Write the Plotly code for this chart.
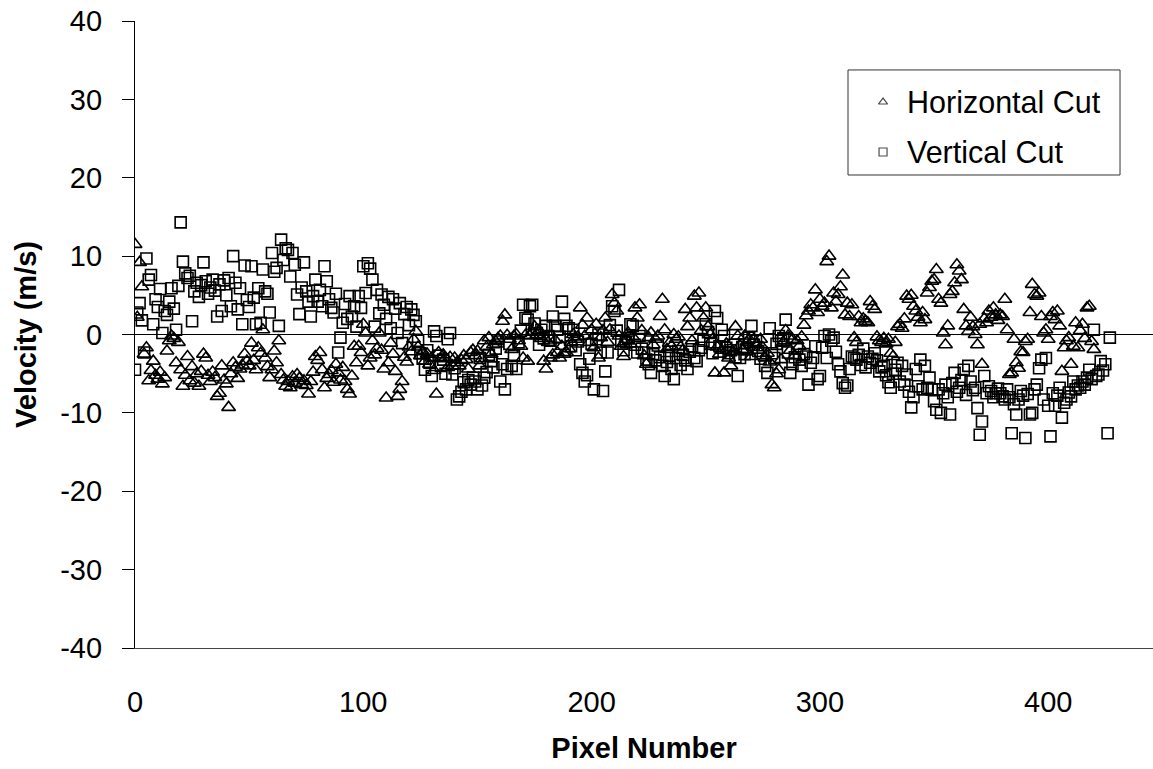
import plotly.graph_objects as go

# Velocity along the horizontal cut (one sample per pixel, 0..420)
horizontal_cut = [
    11.5, 2.2, 9.2, 6.1, -2.5, -1.7, -5.9, -4.6, -3.4, -5.2,
    -5.7, -4.8, -6.3, -5.5, -2.1, -0.8, -0.2, -0.5, -3.6, -1.0,
    -4.5, -6.6, -5.2, -2.8, -5.9, -4.1, -6.2, -5.0, -6.6, -4.7,
    -2.5, -3.0, -5.2, -6.0, -4.8, -5.5, -7.9, -7.5, -4.0, -5.8,
    -6.3, -9.3, -5.0, -3.6, -4.2, -5.6, -4.4, -3.9, -2.5, -3.4,
    -4.0, -1.1, -3.3, -4.5, -1.7, -2.4, 0.6, -3.0, -4.1, -5.5,
    -4.5, -2.1, -3.6, -0.8, -5.1, -5.8, -6.6, -6.0, -6.8, -5.4,
    -6.2, -5.1, -5.6, -6.4, -5.9, -6.5, -7.6, -6.0, -4.8, -2.8,
    -3.3, -2.3, -4.5, -6.8, -5.6, -5.1, -4.6, -6.1, -3.8, -4.9,
    -5.8, -4.2, -6.0, -7.0, -7.6, -5.3, -1.5, -3.6, -1.5, -2.3,
    1.3, 0.2, -4.0, -3.0, -0.8, -2.6, -1.8, 0.2, -2.0, -4.4,
    -8.1, -3.6, -1.1, -2.5, -4.7, -7.9, -7.0, -6.0, -2.9, -3.5,
    -1.6, -2.2, -0.6, 0.4, -1.6, -2.7, -2.2, -3.4, -2.5, -3.8,
    -3.0, -4.6, -7.6, -2.3, -3.1, -2.6, -3.0, -4.2, -2.9, -4.0,
    -3.0, -3.6, -4.0, -3.3, -2.7, -3.2, -4.4, -2.3, -2.0, -2.7,
    -2.1, -4.0, -3.1, -0.8, -1.6, -0.4, -2.5, -1.3, -0.9, -0.5,
    -0.2, 1.7, 2.5, -0.1, -0.6, -1.9, -0.2, 0.0, -0.8, -1.5,
    -3.0, -0.1, -3.4, -0.2, 0.3, 1.0, 0.0, 0.5, -0.5, -3.4,
    -4.4, -1.0, -3.0, -2.6, -0.7, -2.3, -3.0, -1.5, -2.5, -2.3,
    -1.8, -1.0, 0.0, -0.6, -0.3, 3.4, 1.2, -0.2, 2.1, -1.0,
    0.6, -1.7, 1.3, -3.0, -0.4, 0.5, 2.1, -1.0, 0.6, 5.1,
    4.0, 3.0, -0.2, -1.5, -2.8, -0.6, 0.2, -1.2, -0.3, 3.4,
    2.1, 3.8, 0.5, -2.7, -3.8, -0.4, 0.2, -1.3, -0.6, -0.2,
    2.3, 4.5, 0.6, -1.9, -1.1, -1.5, 0.0, -0.6, -0.3, -1.6,
    -2.0, 3.2, 1.0, 2.1, -0.8, 4.9, 3.4, 5.3, 0.5, 2.1,
    3.4, 1.0, 0.0, -0.6, -4.9, -1.6, -2.5, -2.0, -4.9, -1.2,
    -3.0, -4.0, -2.2, 1.0, -0.2, -1.4, -2.0, -0.2, -1.0, -0.6,
    -2.8, -0.6, -1.3, -2.0, -0.6, -1.7, -3.0, -2.4, -3.5, -6.4,
    -6.8, -5.0, -4.5, -3.2, -1.0, 0.5, -0.2, -2.0, -0.6, -2.7,
    -0.8, -1.5, -0.3, 1.2, 2.4, 3.0, 3.8, 3.4, 5.7, 2.8,
    4.5, 3.6, 4.0, 9.3, 10.0, 3.4, 5.3, 4.2, 5.1, 6.1,
    7.6, 2.5, 4.0, 2.3, 3.8, -0.4, -1.0, 2.3, 1.5, 2.0,
    1.7, 1.5, 4.2, 3.6, 3.2, -0.3, -0.8, -1.0, -0.5, -1.2,
    -0.6, -2.4, -2.8, -1.0, 1.0, 1.3, 0.8, 2.0, 4.9, 4.5,
    5.0, 3.6, 3.0, 2.2, 1.5, 2.8, 1.9, 5.3, 6.0, 6.8,
    7.0, 8.3, 4.5, 4.0, 0.2, -1.3, 1.1, 5.1, 5.5, 6.6,
    8.9, 8.1, 7.0, 3.2, 1.1, 0.4, 2.2, 1.0, 0.0, -1.3,
    1.3, -3.8, 2.0, 1.5, 3.0, 2.2, 3.4, 2.5, 1.8, 2.5,
    2.3, 4.5, 0.6, -5.1, -4.9, -0.6, -3.6, -4.3, -2.2, -2.3,
    -0.9, -0.6, 2.8, 6.4, 5.1, 4.9, 5.3, 2.3, 0.2, 0.6,
    -0.6, 2.3, 2.8, 1.9, 3.0, 1.1, -4.7, -1.7, -0.8, -0.4,
    -3.8, -1.5, 1.5, -1.7, 0.5, 1.3, -0.5, 3.4, 3.6, -0.9,
    -1.9,
]

# Velocity along the vertical cut (one sample per pixel, 0..427)
vertical_cut = [
    -4.5, 2.8, 4.0, 1.8, -2.3, 9.7, 7.0, 7.6, 1.3, 4.5,
    3.5, 5.8, 0.2, 3.0, 2.5, 4.2, 5.9, 3.3, 0.6, 6.2,
    14.3, 9.3, 7.8, 7.2, 7.5, 1.7, 5.5, 6.6, 4.8, 6.3,
    9.2, 6.8, 5.2, 6.0, 7.0, 5.6, 2.3, 6.4, 3.0, 6.9,
    5.0, 7.2, 3.6, 10.0, 6.6, 3.2, 5.9, 1.3, 8.8, 4.4,
    3.5, 8.7, 4.7, 1.3, 5.9, 1.5, 8.3, 5.5, 5.2, 2.8,
    10.4, 8.0, 8.5, 1.1, 12.1, 9.5, 11.0, 10.8, 7.4, 10.4,
    8.9, 5.1, 2.6, 6.0, 9.2, 5.5, 4.2, 2.3, 4.9, 7.0,
    4.2, 5.7, 3.6, 8.7, 6.8, 4.5, 3.4, 2.8, 5.2, -2.3,
    -0.4, 1.5, 3.9, 2.0, 4.9, 2.3, 3.6, 1.0, 4.9, 3.4,
    8.7, 5.3, 9.1, 8.4, 7.0, 1.0, 5.7, 2.7, 5.1, 3.8,
    2.0, 4.8, 0.8, 4.5, 3.3, 0.2, 4.0, -1.1, 2.6, 3.5,
    1.2, 3.2, 2.5, 1.7, -0.8, -2.4, -3.1, -4.5, -2.0, -3.6,
    -5.3, 0.4, -0.2, -2.7, -4.0, -3.2, -5.0, -0.6, 0.2, -5.1,
    -4.3, -8.3, -7.9, -7.3, -6.1, -7.0, -5.8, -6.4, -5.5, -6.0,
    -7.0, -3.0, -6.5, -5.5, -4.8, -2.6, -3.4, -4.2, -1.8, -0.9,
    -6.0, -3.8, -7.0, -4.4, -1.2, -4.0, -2.7, -4.4, -1.0, 0.5,
    3.8, 2.1, 1.9, 3.6, 3.8, 1.4, 0.2, -1.3, 0.6, -0.5,
    1.1, -0.2, -0.8, 2.3, 1.1, 0.6, -0.3, 4.2, 2.0, 1.1,
    0.8, -1.5, 0.6, -2.0, -0.9, -3.8, -4.9, -6.0, -5.2, -3.1,
    -1.2, -7.0, -0.6, 0.0, -2.3, -7.2, -4.7, -2.3, 1.2, 3.6,
    3.0, 0.5, 5.7, -0.8, -2.0, -1.0, -0.5, 1.3, 1.1, -1.3,
    -2.3, -0.2, -1.8, -2.3, -3.2, -3.8, -4.9, -2.5, -3.3, -1.4,
    -2.9, -4.0, -5.3, -3.5, -2.7, -4.4, -5.7, -3.0, -2.1, -3.9,
    -2.6, -3.3, -4.4, -2.2, -1.5, -3.0, -3.4, -2.0, -1.7, -0.8,
    1.3, 0.3, -1.2, -2.4, 3.0, 2.1, -1.5, 0.6, -0.2, -1.7,
    -2.4, -2.0, -1.3, -2.9, -5.3, -3.0, -1.6, -2.5, -1.9, -0.4,
    1.1, -1.3, -0.8, -2.1, -3.1, -2.4, -4.0, -4.9, 0.8, -2.4,
    -3.0, -1.2, -0.2, -0.8, -0.5, 1.9, -2.3, -4.9, -3.8, -2.9,
    -1.8, -3.2, -4.0, -2.5, -2.8, -6.4, -3.6, -3.0, -1.5, -5.7,
    -5.3, -1.7, -0.2, -3.0, 0.0, -0.8, -0.4, -2.2, -3.8, -4.7,
    -6.2, -6.8, -6.5, -4.4, -2.8, -3.0, -3.2, -2.6, -3.9, -1.8,
    -4.2, -2.8, -3.6, -3.1, -2.4, -3.3, -4.7, -4.2, -4.0, -5.2,
    -6.1, -6.8, -5.0, -4.5, -3.6, -6.0, -4.0, -6.4, -5.1, -7.3,
    -9.3, -8.0, -4.4, -6.6, -3.2, -7.0, -4.0, -6.8, -5.5, -7.0,
    -8.5, -9.6, -7.0, -10.0, -7.5, -6.4, -8.0, -10.2, -6.2, -4.9,
    -7.3, -6.8, -5.8, -4.5, -7.7, -4.0, -6.0, -7.1, -6.8, -9.4,
    -12.8, -11.1, -5.3, -7.5, -6.6, -7.2, -8.0, -7.5, -6.9, -7.5,
    -7.9, -8.3, -7.0, -8.0, -12.6, -8.9, -10.2, -8.3, -7.2, -7.8,
    -13.2, -7.6, -10.2, -10.0, -7.0, -6.4, -4.3, -3.2, -8.3, -3.0,
    -9.1, -13.0, -7.5, -9.1, -7.8, -6.8, -10.6, -8.7, -8.3, -7.4,
    -7.9, -6.0, -7.0, -6.5, -6.8, -6.0, -6.4, -5.5, -4.5, -5.7,
    0.6, -5.3, -5.1, -3.4, -4.6, -3.8, -12.6, -0.4,
]

pixel_h = list(range(len(horizontal_cut)))
pixel_v = list(range(len(vertical_cut)))

y_ticks = [-40, -30, -20, -10, 0, 10, 20, 30, 40]
x_ticks = [0, 100, 200, 300, 400]
series_names = ["Horizontal Cut", "Vertical Cut"]
series_symbols = ["triangle-up-open", "square-open"]

FONT = "Liberation Sans, Arial, sans-serif"

fig = go.Figure()

# data markers
fig.add_trace(go.Scatter(
    x=pixel_h, y=horizontal_cut, mode="markers", showlegend=False,
    marker=dict(symbol=series_symbols[0], size=12, color="black",
                line=dict(width=1.6, color="black")),
))
fig.add_trace(go.Scatter(
    x=pixel_v, y=vertical_cut, mode="markers", showlegend=False,
    marker=dict(symbol=series_symbols[1], size=11, color="black",
                line=dict(width=1.6, color="black")),
))

# legend: framed box with small symbols, laid out in paper fractions
box_x0, box_x1, box_y0, box_y1 = 0.7004, 0.9676, 0.7544, 0.9219
sym_x, text_x = 0.7348, 0.7564
row_y = [0.8708, 0.7911]

fig.add_shape(type="rect", xref="paper", yref="paper",
              x0=box_x0, x1=box_x1, y0=box_y0, y1=box_y1,
              line=dict(color="#333333", width=1), fillcolor="white", layer="below")
fig.add_trace(go.Scatter(
    x=[sym_x, sym_x], y=row_y, xaxis="x2", yaxis="y2", mode="markers",
    showlegend=False, hoverinfo="skip",
    marker=dict(symbol=series_symbols, size=[8, 8], color="black",
                line=dict(width=1.2, color="black")),
))
for name, yy in zip(series_names, row_y):
    fig.add_annotation(xref="paper", yref="paper", x=text_x, y=yy,
                       xanchor="left", yanchor="middle", showarrow=False,
                       text=name, font=dict(family=FONT, size=30.5, color="black"))

fig.update_layout(
    width=1153, height=769,
    margin=dict(l=135, r=0, t=21, b=121),
    paper_bgcolor="white", plot_bgcolor="white",
    font=dict(family=FONT, size=29, color="black"),
    showlegend=False,
    xaxis=dict(
        range=[0, 445.9], tickvals=x_ticks, ticktext=[str(v) for v in x_ticks],
        showgrid=False, zeroline=False,
        showline=True, linecolor="#444444", linewidth=1.3,
        ticks="", ticklabelstandoff=28,
        title=dict(text="<b>Pixel Number</b>", font=dict(family=FONT, size=29), standoff=20),
    ),
    yaxis=dict(
        range=[-40, 40], tickvals=y_ticks, ticktext=[str(v) for v in y_ticks],
        showgrid=False, zeroline=True, zerolinecolor="black", zerolinewidth=1,
        showline=True, linecolor="black", linewidth=1.3,
        ticks="outside", ticklen=12, tickcolor="black", tickwidth=1,
        ticklabelstandoff=14,
        title=dict(text="<b>Velocity (m/s)</b>", font=dict(family=FONT, size=29), standoff=14),
    ),
    xaxis2=dict(overlaying="x", range=[0, 1], visible=False, fixedrange=True),
    yaxis2=dict(overlaying="y", range=[0, 1], visible=False, fixedrange=True),
)

fig.write_html("out.html")
